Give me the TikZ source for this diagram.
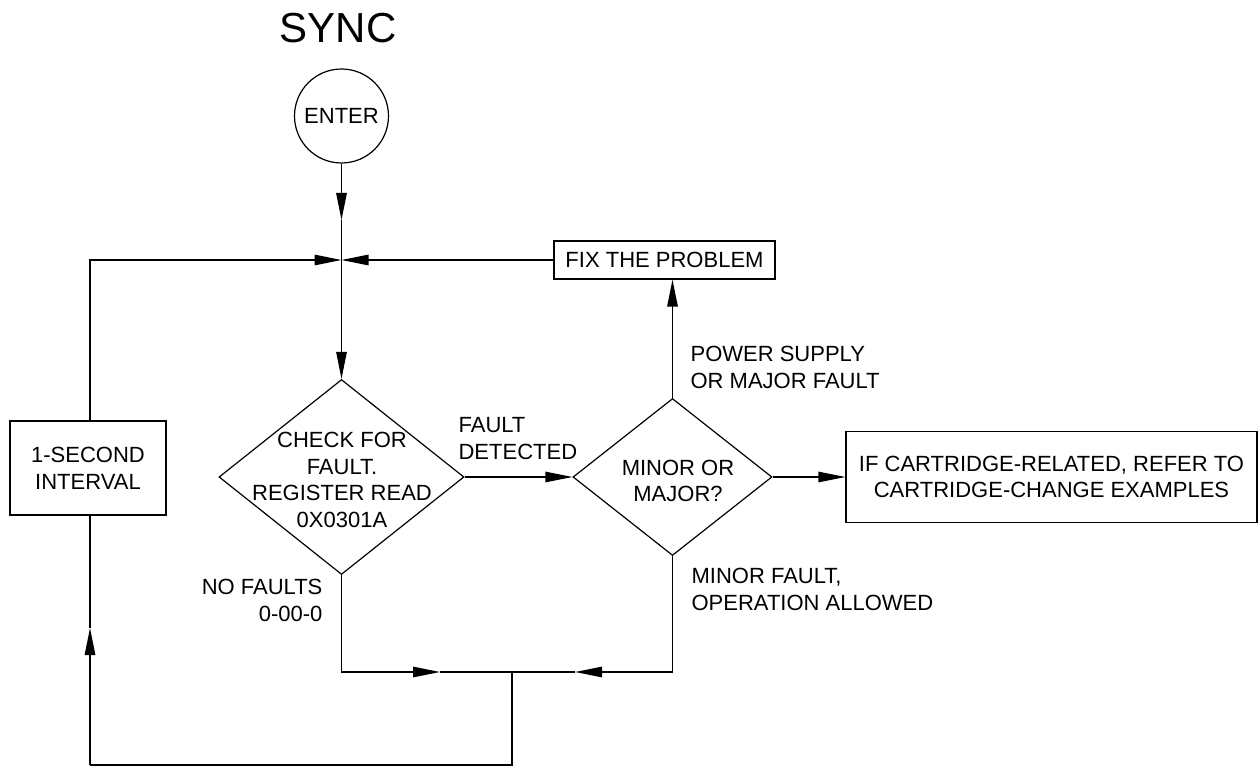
\documentclass[tikz,border=0pt]{standalone}
\usepackage{fontspec}
\setmainfont{Liberation Sans}
\usetikzlibrary{arrows.meta,shapes.geometric}
\begin{document}
\begin{tikzpicture}[x=1pt,y=-1pt,
  line width=1.2pt,
  every node/.style={font=\fontsize{22}{26.7}\selectfont, inner sep=0pt},
  arr/.style={-{Triangle[length=27pt,width=10.5pt]}},
  boxnode/.style={draw, rectangle, align=center},
  dnode/.style={draw, diamond},
  lbl/.style={align=left}]
\useasboundingbox (0,0) rectangle (1259,767);
% nodes
\node[anchor=base, font=\fontsize{42}{50}\selectfont] (title) at (338,43) {SYNC};
\node[draw, circle, minimum size=94pt] (enter) at (341.5,116) {};
\node (entertext) at (341.5,116) {ENTER};
\coordinate (j1) at (341.5,260);
\coordinate (t1) at (341.5,220);
\node[boxnode, minimum width=221pt, minimum height=38pt] (fix) at (664.5,260) {FIX THE PROBLEM};
\node[boxnode, minimum width=156pt, minimum height=94pt] (interval) at (88,468) {1-SECOND\\INTERVAL};
\node[dnode, minimum width=245pt, minimum height=195pt] (check) at (341.5,477) {};
\node[align=center] (checktext) at (342,480) {CHECK FOR\\FAULT.\\REGISTER READ\\0X0301A};
\node[dnode, minimum width=199pt, minimum height=157pt] (minor) at (672.5,477) {};
\node[align=center] (minortext) at (678,481) {MINOR OR\\MAJOR?};
\node[boxnode, minimum width=411pt, minimum height=91pt] (cart) at (1051.5,477) {IF CARTRIDGE-RELATED, REFER TO\\CARTRIDGE-CHANGE EXAMPLES};
% labels
\node[lbl, anchor=north west] (lfault) at (458,417) {FAULT\\DETECTED};
\node[lbl, anchor=north west] (lpower) at (690,346) {POWER SUPPLY\\OR MAJOR FAULT};
\node[lbl, anchor=north west] (lminor) at (691,568) {MINOR FAULT,\\OPERATION ALLOWED};
\node[align=right, anchor=north east] (lnofault) at (323,579) {NO FAULTS\\0-00-0};
% coordinates
\coordinate (b1) at (341.5,672);
\coordinate (tb1) at (440,672);
\coordinate (jb) at (512,672);
\coordinate (b2) at (672.5,672);
\coordinate (tb2) at (575,672);
\coordinate (lb) at (90,765);
\coordinate (tl) at (90,628);
\coordinate (it) at (90,421);
\coordinate (ib) at (90,515);
% connectors
\draw[arr] (enter.south) -- (t1);
\draw (t1) -- (j1);
\draw[arr] (it) |- (j1);
\draw[arr] (fix.west) -- (j1);
\draw[arr] (j1) -- (check.north);
\draw[arr] (check.east) -- (minor.west);
\draw[arr] (minor.north) -- (minor.north |- fix.south);
\draw[arr] (minor.east) -- (cart.west);
\draw[arr] (check.south) |- (tb1);
\draw (tb1) -- (jb);
\draw[arr] (minor.south) |- (tb2);
\draw (tb2) -- (jb);
\draw (jb) |- (lb);
\draw[arr] (lb) -- (tl);
\draw (tl) -- (ib);
\end{tikzpicture}
\end{document}
